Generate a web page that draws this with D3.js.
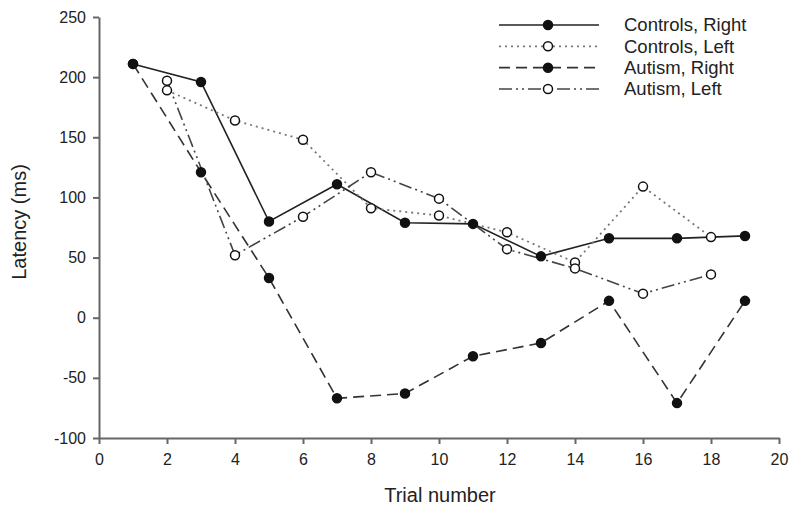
<!DOCTYPE html>
<html>
  <head>
    <meta charset="utf-8" />
    <style>
      body {
        margin: 0;
        background: #fff;
        font-family: "Liberation Sans", Arial, sans-serif;
      }
      .axis .domain,
      .axis .tick line {
        stroke: #666;
        stroke-width: 2px;
      }
      .axis .tick text {
        font-size: 16px;
        fill: #222;
      }
      .axis-label {
        font-size: 20px;
        fill: #222;
      }
      .legend text {
        font-size: 18.5px;
        fill: #222;
      }
    </style>
  </head>
  <body>
    <svg width="800" height="515"></svg>

    <script src="https://d3js.org/d3.v7.min.js"></script>
    <script>
      // values
      let trialsOdd = [1, 3, 5, 7, 9, 11, 13, 15, 17, 19];
      let trialsEven = [2, 4, 6, 8, 10, 12, 14, 16, 18];

      let controlsRight = [211, 196, 80, 111, 79, 78, 51, 66, 66, 68];
      let controlsLeft = [189, 164, 148, 91, 85, 71, 46, 109, 67];
      let autismRight = [211, 121, 33, -67, -63, -32, -21, 14, -71, 14];
      let autismLeft = [197, 52, 84, 121, 99, 57, 41, 20, 36];

      let xTicks = [0, 2, 4, 6, 8, 10, 12, 14, 16, 18, 20];
      let yTicks = [-100, -50, 0, 50, 100, 150, 200, 250];

      let seriesNames = [
        "Controls, Right",
        "Controls, Left",
        "Autism, Right",
        "Autism, Left",
      ];

      let styles = [
        { dash: null, stroke: "#222", width: 1.6, filled: true },
        { dash: "2,4", stroke: "#777", width: 1.8, filled: false },
        { dash: "11,6", stroke: "#333", width: 1.6, filled: true },
        { dash: "13,4,2,4,2,4", stroke: "#444", width: 1.6, filled: false },
      ];

      let series = [
        { name: seriesNames[0], xs: trialsOdd, ys: controlsRight },
        { name: seriesNames[1], xs: trialsEven, ys: controlsLeft },
        { name: seriesNames[2], xs: trialsOdd, ys: autismRight },
        { name: seriesNames[3], xs: trialsEven, ys: autismLeft },
      ].map((s, i) => ({
        name: s.name,
        style: styles[i],
        points: s.xs.map((x, j) => ({ x: x, y: s.ys[j] })),
      }));

      let svg = d3.select("svg");

      let x = d3.scaleLinear().domain([0, 20]).range([99, 779]);
      let y = d3.scaleLinear().domain([-100, 250]).range([438, 17]);

      // plain hyphen for negatives, like the original
      let fmt = (d) => String(d);

      svg
        .append("g")
        .attr("class", "x axis")
        .attr("transform", "translate(0,438)")
        .call(
          d3
            .axisBottom(x)
            .tickValues(xTicks)
            .tickFormat(fmt)
            .tickSize(6)
            .tickPadding(10)
            .tickSizeOuter(0)
        );

      svg
        .append("g")
        .attr("class", "y axis")
        .attr("transform", "translate(99,0)")
        .call(
          d3
            .axisLeft(y)
            .tickValues(yTicks)
            .tickFormat(fmt)
            .tickSize(6)
            .tickPadding(7)
            .tickSizeOuter(0)
        );

      svg
        .append("text")
        .attr("class", "axis-label")
        .attr("text-anchor", "middle")
        .attr("x", 440)
        .attr("y", 502)
        .text("Trial number");

      svg
        .append("text")
        .attr("class", "axis-label")
        .attr("text-anchor", "middle")
        .attr("transform", "translate(26,222) rotate(-90)")
        .text("Latency (ms)");

      let line = d3
        .line()
        .x((d) => x(d.x))
        .y((d) => y(d.y));

      let graph = svg.append("g").attr("class", "graph");

      for (let s of series) {
        graph
          .append("path")
          .datum(s.points)
          .attr("d", line)
          .attr("fill", "none")
          .attr("stroke", s.style.stroke)
          .attr("stroke-width", s.style.width)
          .attr("stroke-dasharray", s.style.dash);
      }

      for (let s of series) {
        graph
          .selectAll(null)
          .data(s.points)
          .join("circle")
          .attr("cx", (d) => x(d.x))
          .attr("cy", (d) => y(d.y))
          .attr("r", 4.5)
          .attr("fill", s.style.filled ? "#111" : "#fff")
          .attr("stroke", "#111")
          .attr("stroke-width", 1.5);
      }

      // legend
      let legend = svg.append("g").attr("class", "legend");
      let legendY = d3.scalePoint().domain(seriesNames).range([25, 89]);

      series.forEach((s) => {
        let ly = legendY(s.name);
        legend
          .append("line")
          .attr("x1", 499)
          .attr("x2", 599)
          .attr("y1", ly)
          .attr("y2", ly)
          .attr("stroke", s.style.stroke)
          .attr("stroke-width", s.style.width)
          .attr("stroke-dasharray", s.style.dash);
        legend
          .append("circle")
          .attr("cx", 548)
          .attr("cy", ly)
          .attr("r", 4.5)
          .attr("fill", s.style.filled ? "#111" : "#fff")
          .attr("stroke", "#111")
          .attr("stroke-width", 1.5);
        legend
          .append("text")
          .attr("x", 624)
          .attr("y", ly)
          .attr("dy", "0.35em")
          .text(s.name);
      });
    </script>
  </body>
</html>
